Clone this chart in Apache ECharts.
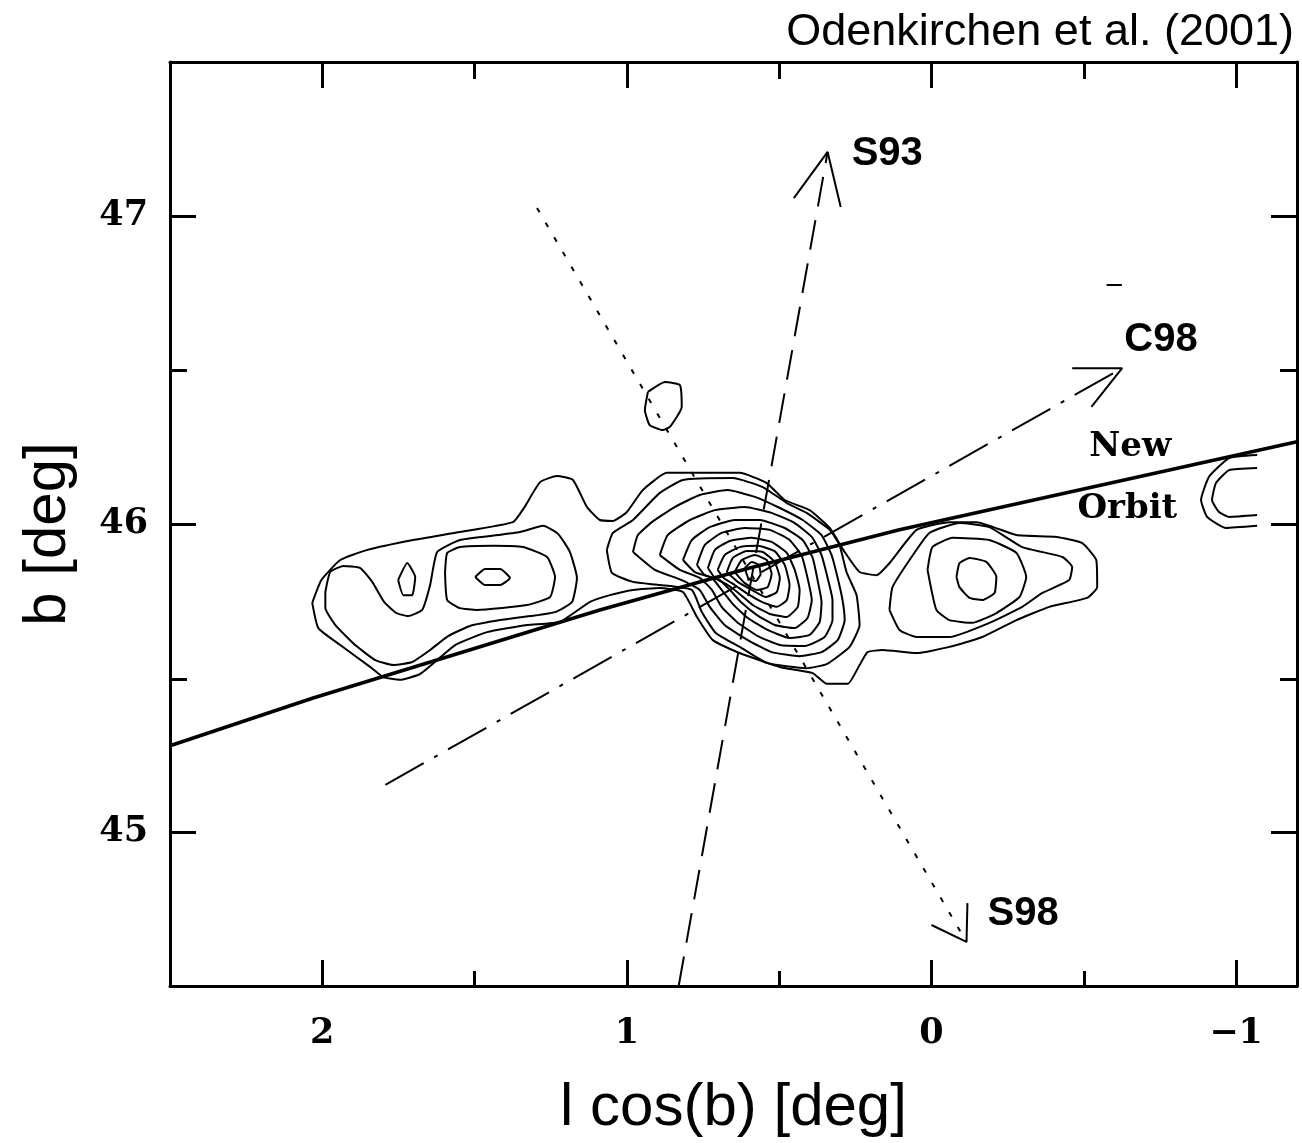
<!DOCTYPE html>
<html><head><meta charset="utf-8">
<script src="https://cdn.jsdelivr.net/npm/echarts@6/dist/echarts.min.js"></script>
<style>html,body{margin:0;padding:0;background:#fff}#c{width:1302px;height:1143px}</style>
</head><body><div id="c"></div>
<script>
// ---------------- data ----------------
const titleText = 'Odenkirchen et al. (2001)';
const xAxisName = 'l cos(b) [deg]';
const yAxisName = 'b [deg]';
const xTickLabels = [-1, 0, 1, 2];
const xMinorTicks = [-0.5, 0.5, 1.5];
const yTickLabels = [45, 46, 47];
const yMinorTicks = [45.5, 46.5];

// closed contours [l cos b, b]
const contourOuter = [[2.033,45.744],[2.003,45.818],[1.941,45.883],[1.852,45.916],[1.702,45.948],[1.548,45.974],[1.374,46.006],[1.338,46.052],[1.285,46.136],[1.230,46.156],[1.177,46.143],[1.131,46.055],[1.089,46.013],[1.046,46.010],[1.000,46.039],[0.948,46.110],[0.869,46.166],[0.630,46.166],[0.541,46.133],[0.482,46.078],[0.400,46.045],[0.334,45.987],[0.285,45.909],[0.236,45.844],[0.180,45.834],[0.138,45.873],[0.049,45.981],[-0.059,46.006],[-0.148,46.006],[-0.279,45.964],[-0.410,45.958],[-0.495,45.938],[-0.541,45.883],[-0.544,45.795],[-0.511,45.760],[-0.387,45.731],[-0.279,45.688],[-0.167,45.633],[-0.059,45.601],[0.049,45.581],[0.161,45.591],[0.210,45.584],[0.236,45.542],[0.275,45.481],[0.344,45.481],[0.390,45.516],[0.498,45.536],[0.630,45.581],[0.718,45.623],[0.770,45.698],[0.816,45.779],[0.892,45.792],[0.980,45.786],[1.056,45.769],[1.121,45.747],[1.220,45.682],[1.328,45.672],[1.459,45.649],[1.564,45.607],[1.623,45.558],[1.679,45.513],[1.744,45.494],[1.800,45.503],[1.843,45.536],[1.941,45.607],[2.013,45.662]];
const contourLeftU = [[1.990,45.779],[1.974,45.844],[1.931,45.864],[1.875,45.857],[1.836,45.812],[1.797,45.747],[1.757,45.711],[1.718,45.701],[1.672,45.721],[1.646,45.802],[1.623,45.909],[1.548,45.948],[1.449,45.961],[1.351,45.974],[1.275,45.994],[1.226,45.968],[1.187,45.909],[1.164,45.825],[1.180,45.747],[1.236,45.714],[1.318,45.701],[1.416,45.688],[1.515,45.669],[1.587,45.636],[1.646,45.591],[1.705,45.552],[1.767,45.542],[1.826,45.558],[1.892,45.607],[1.957,45.672],[1.990,45.727]];
const contourLeftOval = [[1.597,45.841],[1.590,45.906],[1.548,45.925],[1.439,45.929],[1.341,45.925],[1.262,45.893],[1.236,45.828],[1.252,45.763],[1.328,45.737],[1.492,45.721],[1.548,45.727],[1.590,45.753]];
const contourLeftCore = [[1.498,45.828],[1.466,45.854],[1.416,45.854],[1.384,45.825],[1.416,45.802],[1.466,45.802]];
const contourLeftSpot = [[1.751,45.818],[1.721,45.873],[1.695,45.828],[1.705,45.769],[1.734,45.769]];
const contourRightA = [[0.138,45.721],[0.128,45.795],[0.072,45.883],[0.007,45.971],[-0.092,46.003],[-0.190,45.990],[-0.298,45.925],[-0.430,45.893],[-0.462,45.860],[-0.452,45.818],[-0.364,45.776],[-0.298,45.731],[-0.190,45.679],[-0.059,45.633],[0.049,45.633],[0.105,45.656]];
const contourRightB = [[0.013,45.851],[-0.003,45.925],[-0.069,45.955],[-0.190,45.948],[-0.279,45.906],[-0.311,45.828],[-0.289,45.763],[-0.213,45.711],[-0.134,45.679],[-0.059,45.688],[-0.016,45.721]];
const contourRightCore = [[-0.082,45.828],[-0.092,45.873],[-0.125,45.890],[-0.180,45.877],[-0.213,45.828],[-0.207,45.776],[-0.167,45.753],[-0.125,45.760],[-0.092,45.795]];
const contourIsland = [[0.931,46.429],[0.875,46.461],[0.826,46.451],[0.820,46.380],[0.859,46.315],[0.882,46.305],[0.925,46.321],[0.941,46.370]];
const contourCore2 = [[1.066,45.916],[1.046,45.971],[0.980,46.013],[0.892,46.101],[0.816,46.143],[0.652,46.149],[0.554,46.120],[0.475,46.068],[0.410,46.036],[0.334,45.981],[0.302,45.932],[0.279,45.844],[0.246,45.769],[0.236,45.672],[0.269,45.601],[0.344,45.545],[0.410,45.532],[0.541,45.549],[0.623,45.597],[0.708,45.646],[0.754,45.714],[0.787,45.786],[0.892,45.802],[0.980,45.812],[1.049,45.841]];
const contourCore3 = [[0.980,45.909],[0.964,45.964],[0.918,46.006],[0.843,46.055],[0.761,46.094],[0.669,46.110],[0.580,46.088],[0.498,46.052],[0.423,46.013],[0.361,45.964],[0.328,45.899],[0.308,45.825],[0.292,45.753],[0.285,45.688],[0.308,45.623],[0.361,45.584],[0.433,45.571],[0.525,45.584],[0.603,45.623],[0.679,45.672],[0.728,45.731],[0.761,45.786],[0.820,45.818],[0.908,45.851]];
const contourCore4 = [[0.892,45.899],[0.866,45.964],[0.793,46.013],[0.711,46.045],[0.613,46.055],[0.525,46.036],[0.449,46.003],[0.393,45.958],[0.361,45.899],[0.341,45.825],[0.325,45.753],[0.325,45.688],[0.351,45.633],[0.416,45.604],[0.498,45.607],[0.570,45.636],[0.639,45.682],[0.689,45.731],[0.721,45.786],[0.761,45.825],[0.826,45.851]];
const contourCore5 = [[0.816,45.883],[0.787,45.948],[0.728,45.990],[0.646,46.013],[0.564,46.013],[0.482,45.987],[0.423,45.948],[0.390,45.890],[0.374,45.818],[0.361,45.747],[0.367,45.682],[0.400,45.640],[0.466,45.630],[0.538,45.656],[0.603,45.695],[0.652,45.740],[0.689,45.786],[0.721,45.825],[0.777,45.844]];
const contourCore6 = [[0.770,45.867],[0.744,45.932],[0.689,45.971],[0.613,45.987],[0.531,45.981],[0.466,45.948],[0.426,45.896],[0.407,45.825],[0.393,45.753],[0.407,45.695],[0.449,45.662],[0.515,45.672],[0.574,45.705],[0.623,45.744],[0.662,45.786],[0.695,45.818],[0.744,45.834]];
const contourCore7 = [[0.734,45.857],[0.711,45.916],[0.662,45.945],[0.590,45.955],[0.525,45.942],[0.475,45.906],[0.449,45.851],[0.433,45.786],[0.439,45.731],[0.475,45.698],[0.531,45.708],[0.587,45.737],[0.630,45.773],[0.669,45.802],[0.711,45.825]];
const contourCore8 = [[0.702,45.851],[0.679,45.899],[0.630,45.925],[0.570,45.929],[0.515,45.912],[0.482,45.867],[0.466,45.802],[0.475,45.753],[0.508,45.731],[0.557,45.747],[0.603,45.773],[0.646,45.802],[0.682,45.825]];
const contourCore9 = [[0.672,45.844],[0.652,45.890],[0.607,45.912],[0.554,45.909],[0.515,45.877],[0.498,45.825],[0.508,45.779],[0.544,45.763],[0.590,45.786],[0.636,45.812]];
const contourCore10 = [[0.646,45.844],[0.623,45.883],[0.580,45.899],[0.541,45.883],[0.525,45.838],[0.538,45.795],[0.574,45.786],[0.613,45.808]];
const contourCore11 = [[0.613,45.857],[0.590,45.877],[0.567,45.867],[0.561,45.838],[0.577,45.815],[0.600,45.821]];
// open contour pieces (cut by the map edge)
const contourEdgeOuter = [[-1.069,46.224],[-0.977,46.214],[-0.911,46.153],[-0.885,46.078],[-0.905,46.023],[-0.967,45.987],[-1.069,45.994]];
const contourEdgeInner = [[-1.069,46.182],[-0.977,46.175],[-0.934,46.133],[-0.921,46.078],[-0.944,46.039],[-0.977,46.023],[-1.069,46.029]];
const contourSpeck = [[-0.575,46.776],[-0.625,46.776]];

// orbit and direction arrows
const newOrbit = [[2.5,45.28],[2.03,45.435],[1.089,45.721],[0.597,45.857],[0.105,45.981],[-1.2,46.267]];
const s93Line = [[0.830,44.5],[0.341,47.208]];
const s93Head = [[0.452,47.058],[0.341,47.208],[0.298,47.029]];
const s98Line = [[1.295,47.026],[-0.115,44.643]];
const s98Head = [[0.0,44.698],[-0.115,44.643],[-0.118,44.769]];
const c98Line = [[1.793,45.153],[-0.626,46.506]];
const c98Head = [[-0.462,46.506],[-0.626,46.506],[-0.525,46.380]];

// text labels: name and anchor (left edge, middle) in data units
const sansLabelNames = ['S93', 'C98', 'S98'];
const sansLabelAt = [[0.262,47.200],[-0.633,46.597],[-0.184,44.735]];
const serifLabelNames = ['New', 'Orbit'];
const serifLabelAt = [[-0.518,46.25],[-0.479,46.049]];

// ---------------- chart ----------------
const X_MIN = -1.2, X_MAX = 2.5, Y_MIN = 44.5, Y_MAX = 47.5;
const closedContours = [contourOuter, contourLeftU, contourLeftOval, contourLeftCore, contourLeftSpot,
  contourRightA, contourRightB, contourRightCore, contourIsland,
  contourCore2, contourCore3, contourCore4, contourCore5, contourCore6, contourCore7, contourCore8,
  contourCore9, contourCore10, contourCore11];
const openContours = [contourEdgeOuter, contourEdgeInner, contourSpeck];

const fmt = v => (v < 0 ? '\u2212' + Math.abs(v) : String(v));
const tickFont = { fontFamily: 'DejaVu Serif', fontWeight: 'bold', fontSize: 35, color: '#000' };
const nameFont = { fontFamily: 'Liberation Sans', fontWeight: 'normal', fontSize: 60, color: '#000' };

function xAxis(grid, pos, ticks, len, labels, main) {
  const a = {
    type: 'value', gridIndex: grid, position: pos, min: X_MIN, max: X_MAX, inverse: true,
    splitNumber: main ? 4 : 7,
    axisLine: { show: main, onZero: false, lineStyle: { color: '#000', width: 3 } },
    axisTick: { show: true, inside: true, length: len, customValues: ticks, lineStyle: { color: '#000', width: 3 } },
    axisLabel: labels ? { show: true, customValues: xTickLabels, margin: 30,
      formatter: v => (xTickLabels.indexOf(v) >= 0 ? fmt(v) : ''), ...tickFont } : { show: false },
    splitLine: { show: false }
  };
  if (labels) Object.assign(a, { name: xAxisName, nameLocation: 'middle', nameGap: 92, nameTextStyle: nameFont });
  return a;
}
function yAxis(grid, pos, ticks, len, labels, main) {
  const a = {
    type: 'value', gridIndex: grid, position: pos, min: Y_MIN, max: Y_MAX,
    splitNumber: main ? 3 : 6,
    axisLine: { show: main, onZero: false, lineStyle: { color: '#000', width: 3 } },
    axisTick: { show: true, inside: true, length: len, customValues: ticks, lineStyle: { color: '#000', width: 3 } },
    axisLabel: labels ? { show: true, customValues: yTickLabels, margin: 22,
      formatter: v => (yTickLabels.indexOf(v) >= 0 ? fmt(v) : ''), ...tickFont } : { show: false },
    splitLine: { show: false }
  };
  if (labels) Object.assign(a, { name: yAxisName, nameLocation: 'middle', nameGap: 92,
    nameTextStyle: Object.assign({ padding: [0, 20, 0, 0] }, nameFont) });
  return a;
}

const lineBase = (data, width, type) => ({
  type: 'line', xAxisIndex: 0, yAxisIndex: 0, data, showSymbol: false, symbol: 'none', silent: true,
  lineStyle: { color: '#000', width, type: type || 'solid', opacity: 1 }, z: 3
});

const series = [];
closedContours.forEach(c => { const s = lineBase(c.concat([c[0]]), 2); s.smooth = 0.15; series.push(s); });
openContours.forEach(c => { const s = lineBase(c, 2); s.smooth = 0.15; series.push(s); });
series.push(lineBase(newOrbit, 3.6));
series.push(lineBase(s93Line, 2, [30, 14]));
series.push(lineBase(s93Head, 2));
series.push(lineBase(s98Line, 2, [5, 12]));
series.push(lineBase(s98Head, 2));
series.push(lineBase(c98Line, 2, [44, 12, 4, 12]));
series.push(lineBase(c98Head, 2));

const chart = echarts.init(document.getElementById('c'), null, { renderer: 'canvas' });
chart.setOption({
  animation: false,
  backgroundColor: '#fff',
  title: { text: titleText, right: 3, top: 5,
    textStyle: { fontFamily: 'Liberation Sans', fontWeight: 'normal', fontSize: 45, color: '#000' } },
  grid: [
    { left: 170, right: 5, top: 62, bottom: 155 },
    { left: 170, right: 5, top: 62, bottom: 155 }
  ],
  xAxis: [
    xAxis(0, 'bottom', xTickLabels, 26, true, true),
    xAxis(0, 'top', xTickLabels, 26, false, true),
    xAxis(1, 'bottom', xMinorTicks, 17, false, false),
    xAxis(1, 'top', xMinorTicks, 17, false, false)
  ],
  yAxis: [
    yAxis(0, 'left', yTickLabels, 26, true, true),
    yAxis(0, 'right', yTickLabels, 26, false, true),
    yAxis(1, 'left', yMinorTicks, 17, false, false),
    yAxis(1, 'right', yMinorTicks, 17, false, false)
  ],
  series
});

// text annotations placed through the chart's own coordinate system
const textEls = [];
sansLabelNames.forEach((n, i) => {
  const p = chart.convertToPixel({ gridIndex: 0 }, sansLabelAt[i]);
  textEls.push({ type: 'text', x: p[0], y: p[1], z: 10, silent: true,
    style: { text: n, fill: '#000', font: 'bold 40px "Liberation Sans"', align: 'left', verticalAlign: 'middle' } });
});
serifLabelNames.forEach((n, i) => {
  const p = chart.convertToPixel({ gridIndex: 0 }, serifLabelAt[i]);
  textEls.push({ type: 'text', x: p[0], y: p[1], z: 10, silent: true,
    style: { text: n, fill: '#000', font: 'bold 34px "DejaVu Serif"', align: 'left', verticalAlign: 'middle' } });
});
chart.setOption({ graphic: textEls });
</script></body></html>
